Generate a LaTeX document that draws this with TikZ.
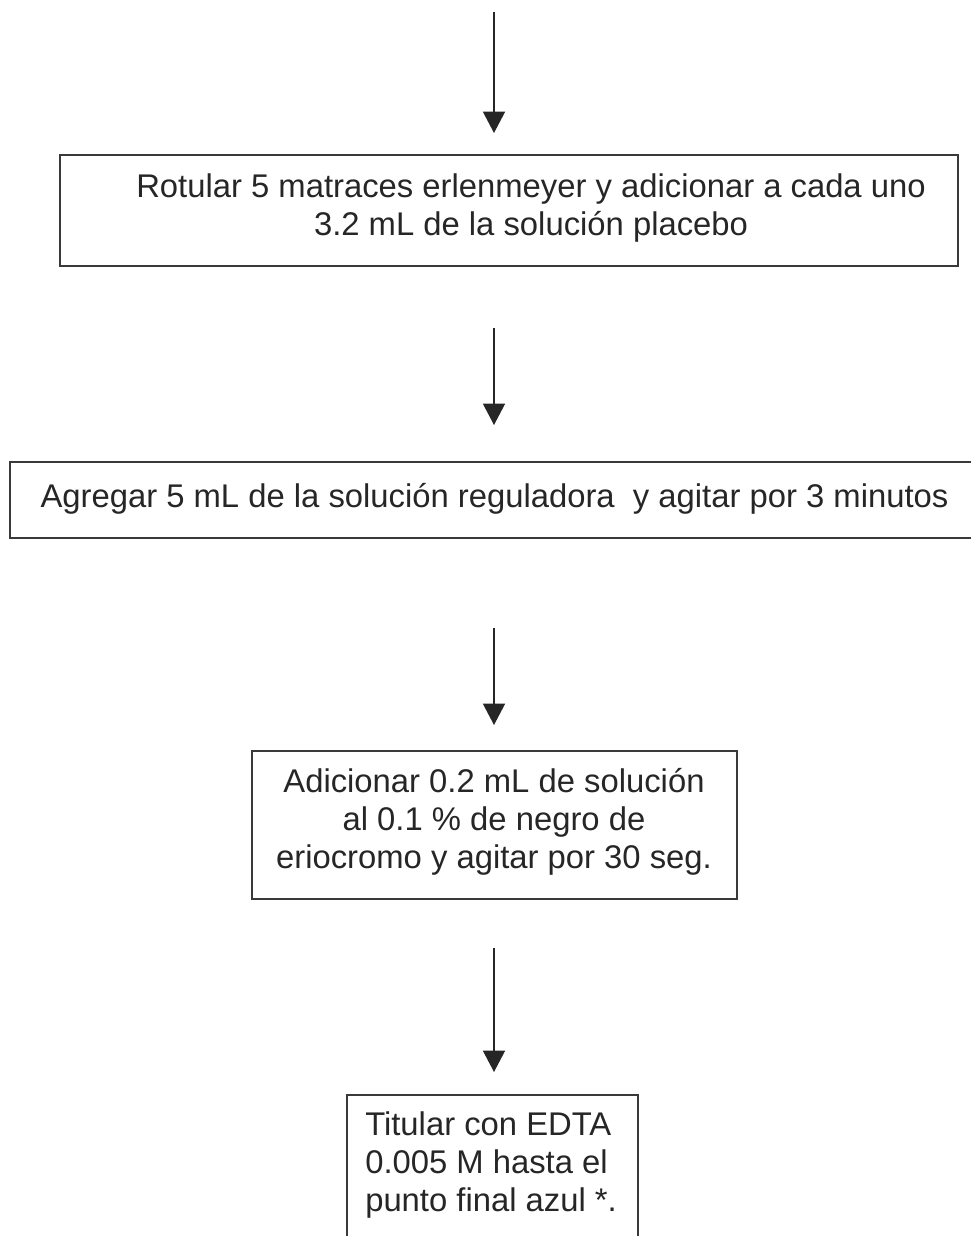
\documentclass[tikz,border=0pt]{standalone}
\usepackage{fontspec}
\setmainfont{Liberation Sans}
\usetikzlibrary{arrows.meta}
\definecolor{ink}{HTML}{262626}
\definecolor{frame}{HTML}{3A3A3A}
\begin{document}
\begin{tikzpicture}[x=0.75pt,y=-0.75pt,
  boxstyle/.style={draw=frame, line width=1.3pt, inner sep=0pt, outer sep=0pt},
  txt/.style={text=ink, inner sep=0pt, font=\fontsize{24.6pt}{28.5pt}\selectfont},
  flowarrow/.style={draw=ink, line width=1.1pt, -{Triangle[width=16.5pt,length=16pt]}}]
\useasboundingbox (0,0) rectangle (971,1236);
% boxes
\node[boxstyle, minimum width=673.5pt, minimum height=83.25pt] (b1) at (509,210.5) {};
\node[boxstyle, minimum width=735pt, minimum height=57pt] (b2) at (500,500) {};
\node[boxstyle, minimum width=363.75pt, minimum height=111pt] (b3) at (494.5,825) {};
\node[boxstyle, minimum width=218.25pt, minimum height=150pt] (b4) at (492.5,1195) {};
% texts
\node[txt, align=center] (t1) at (531,208.5) {Rotular 5 matraces erlenmeyer y adicionar a cada uno\\3.2 mL de la solución placebo};
\node[txt] (t2) at (494.5,498.5) {Agregar 5 mL de la solución reguladora\ \ y agitar por 3 minutos};
\node[txt, align=center] (t3) at (494,821.5) {Adicionar 0.2 mL de solución\\al 0.1 \% de negro de\\eriocromo y agitar por 30 seg.};
\node[txt, align=left, anchor=west] (t4) at (365,1165.5) {Titular con EDTA\\0.005 M hasta el\\punto final azul *.};
% arrows
\coordinate (s1) at (494,12);   \coordinate (e1) at (494,133);
\coordinate (s2) at (494,328);  \coordinate (e2) at (494,425);
\coordinate (s3) at (494,628);  \coordinate (e3) at (494,725);
\coordinate (s4) at (494,948);  \coordinate (e4) at (494,1072);
\draw[flowarrow] (s1) -- (e1);
\draw[flowarrow] (s2) -- (e2);
\draw[flowarrow] (s3) -- (e3);
\draw[flowarrow] (s4) -- (e4);
\end{tikzpicture}
\end{document}
